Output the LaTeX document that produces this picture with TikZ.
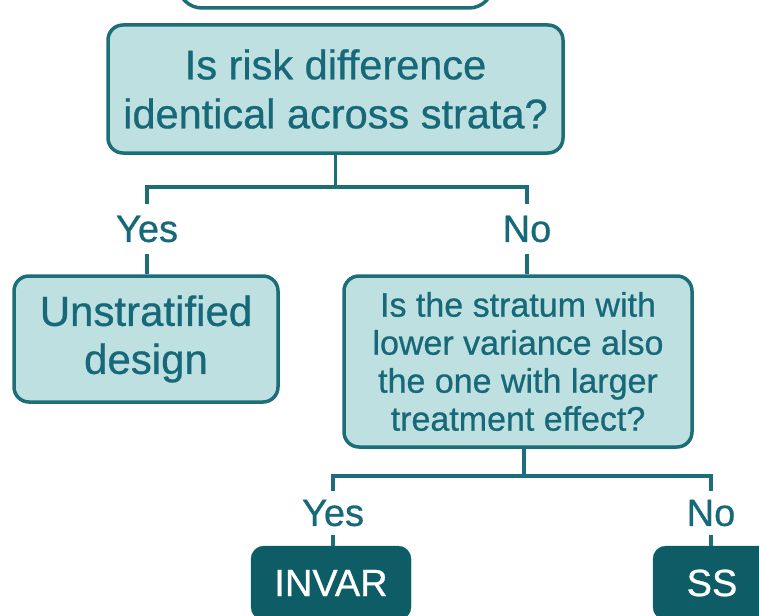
\documentclass[tikz,border=0pt]{standalone}
\usepackage{fontspec}
\setmainfont{Liberation Sans}[FakeBold=0.7]
\usetikzlibrary{calc}

\definecolor{tealline}{HTML}{1C6E78}
\definecolor{tealtext}{HTML}{17697A}
\definecolor{tealfill}{HTML}{BEE0E0}
\definecolor{tealdark}{HTML}{0E5D66}

\begin{document}
\begin{tikzpicture}[x=1pt, y=-1pt,
  box/.style={draw=tealline, line width=3.5pt, fill=tealfill, rounded corners=15pt,
    text=tealtext, align=center, inner sep=0pt},
  leaf/.style={draw=tealdark, fill=tealdark, rounded corners=13pt, text=white,
    inner sep=0pt, font=\fontsize{38}{44}\selectfont},
  answer/.style={text=tealtext, inner sep=0pt, font=\fontsize{38}{44}\selectfont},
  link/.style={draw=tealline, line width=3.5pt}]

\useasboundingbox (0,0) rectangle (759,615);

% boxes
\node [box, fill=none, rounded corners=24pt, minimum width=315pt, minimum height=60pt] (prev) at (335.5,-22) {};
\node [box, minimum width=455pt, minimum height=128pt, font=\fontsize{41.5}{49}\selectfont]
  (q1) at (335.5,89) {Is risk difference\\identical across strata?};
\node [box, minimum width=264pt, minimum height=126pt, font=\fontsize{42}{48}\selectfont]
  (unstrat) at (146,339) {Unstratified\\design};
\node [box, minimum width=348pt, minimum height=171pt, font=\fontsize{34}{38}\selectfont]
  (q2) at (518,361.5) {Is the stratum with\\lower variance also\\the one with larger\\treatment effect?};
\node [leaf, minimum width=160pt, minimum height=74pt] (invar) at (331,583) {INVAR};
\node [leaf, minimum width=118pt, minimum height=74pt] (ss) at (712,583) {SS};

% answers
\node [answer, minimum height=50pt] (yes1) at (147,229) {Yes};
\node [answer, minimum height=50pt] (no1) at (527,229) {No};
\node [answer, minimum height=44pt] (yes2) at (333,513) {Yes};
\node [answer, minimum height=44pt] (no2) at (711,513) {No};

\coordinate (split1) at (q1.south |- 0,187);
\coordinate (split2) at ($(q2.south)+(6,0)$);

% connectors
\draw [link] (q1.south) -- (split1);
\draw [link] (yes1.north) |- (split1) -| (no1.north);
\draw [link] (yes1.south) -- (unstrat.north -| yes1);
\draw [link] (no1.south) -- (q2.north -| no1);
\draw [link] (split2) -- ++(0,27) coordinate (split3);
\draw [link] (yes2.north) |- (split3) -| (no2.north);
\draw [link] (yes2.south) -- (invar.north -| yes2);
\draw [link] (no2.south) -- (ss.north -| no2);

\end{tikzpicture}
\end{document}
